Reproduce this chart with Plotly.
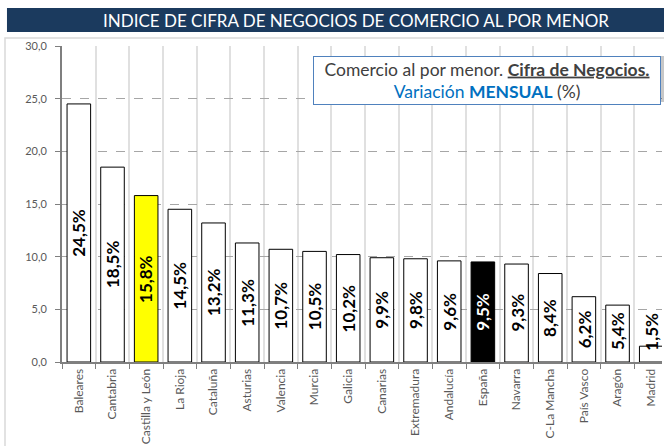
import plotly.graph_objects as go

regions = ["Baleares", "Cantabria", "Castilla y León", "La Rioja", "Cataluña", "Asturias",
           "Valencia", "Murcia", "Galicia", "Canarias", "Extremadura", "Andalucía", "España",
           "Navarra", "C-La Mancha", "País Vasco", "Aragón", "Madrid"]
values = [24.5, 18.5, 15.8, 14.5, 13.2, 11.3, 10.7, 10.5, 10.2, 9.9, 9.8, 9.6, 9.5, 9.3, 8.4, 6.2, 5.4, 1.5]
y_ticks = [0, 5, 10, 15, 20, 25, 30]
title_text = "INDICE DE CIFRA DE NEGOCIOS DE COMERCIO AL POR MENOR"

FONT = "Lato"
fills = []
for r in regions:
    if r == "Castilla y León":
        fills.append("#FFFF00")
    elif r == "España":
        fills.append("#000000")
    else:
        fills.append("#FFFFFF")

fig = go.Figure()
fig.add_trace(go.Bar(
    x=regions, y=values, width=0.7,
    marker=dict(color=fills, line=dict(color="#000000", width=1)),
    hoverinfo="skip",
))

# rotated value labels inside the bars
for r, v in zip(regions, values):
    lab = f"{v:.1f}%".replace(".", ",")
    fig.add_annotation(
        x=r, y=max(v / 2, 2.9), text=f"<b>{lab}</b>", textangle=-90, showarrow=False,
        font=dict(family=FONT, size=17, color="#FFFFFF" if r == "España" else "#000000"),
        xanchor="center", yanchor="middle",
    )

# outer chart frame
fig.add_shape(type="rect", xref="paper", yref="paper", x0=-0.095, x1=1.2, y0=-0.4, y1=1.0253,
              line=dict(color="#D9D9D9", width=1.5), fillcolor="rgba(0,0,0,0)", layer="below")
# title bar
fig.add_shape(type="rect", xref="paper", yref="paper", x0=-0.0917, x1=1.01, y0=1.0443, y1=1.1203,
              line=dict(width=0), fillcolor="#1B3A5E", layer="above")
fig.add_annotation(xref="paper", yref="paper", x=0.49, y=1.082, text=title_text, showarrow=False,
                   font=dict(family=FONT, size=17, color="#FFFFFF"), xanchor="center", yanchor="middle")

# legend-like text box with shadow
fig.add_shape(type="rect", xref="paper", yref="paper", x0=0.4283, x1=1.0050, y0=0.8230, y1=0.9684,
              line=dict(width=0), fillcolor="rgba(0,0,0,0.22)", layer="above")
fig.add_annotation(
    xref="paper", yref="paper", x=0.7083, y=0.8924, showarrow=False,
    text=("<span style='color:#404040'>Comercio al por menor. <b><u>Cifra de Negocios.</u></b></span><br>"
          "<span style='color:#0070C0'>Variación <b>MENSUAL</b></span><span style='color:#404040'> (%)</span>"),
    font=dict(family=FONT, size=17.5, color="#404040"), align="center",
    bgcolor="#FFFFFF", bordercolor="#4F81BD", borderwidth=1, borderpad=2,
    width=342, height=43, xanchor="center", yanchor="middle",
)

fig.update_layout(
    width=664, height=446,
    margin=dict(l=62, r=2, t=46, b=84),
    paper_bgcolor="#FFFFFF", plot_bgcolor="#FFFFFF",
    showlegend=False, separators=",.",
    font=dict(family=FONT, color="#595959"),
    bargap=0.3,
)
fig.update_xaxes(
    range=[-0.5, 17.32], tickson="boundaries", ticks="outside", ticklen=5, tickcolor="#7F7F7F",
    showgrid=True, gridcolor="#E0E0E0", gridwidth=1.5,
    showline=True, linecolor="#7F7F7F", linewidth=2,
    tickangle=-90, tickfont=dict(family=FONT, size=12, color="#595959"), fixedrange=True,
)
fig.update_yaxes(
    range=[0, 30], tickvals=y_ticks, tickformat=".1f", ticks="outside", ticklen=5, tickcolor="#7F7F7F",
    showgrid=True, gridcolor="#A6A6A6", griddash="dash", gridwidth=1,
    showline=True, linecolor="#7F7F7F", linewidth=2, zeroline=False, ticklabelstandoff=6,
    tickfont=dict(family=FONT, size=11, color="#595959"), fixedrange=True,
)

fig.write_html("out.html", config={"displayModeBar": False},
               post_script="document.body.style.margin='0';")
